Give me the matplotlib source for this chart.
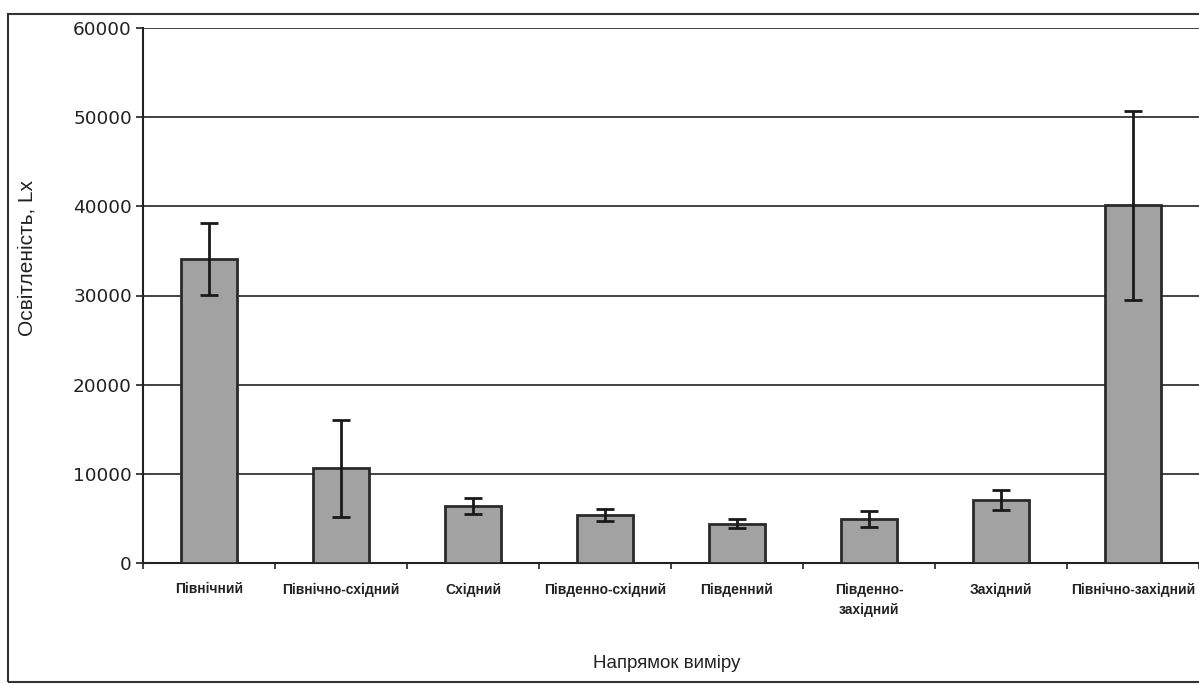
import matplotlib
matplotlib.use("Agg")
import matplotlib.pyplot as plt
from matplotlib.patches import Rectangle
from matplotlib import font_manager
import numpy as np

categories = ["Північний", "Північно-східний", "Східний", "Південно-східний",
              "Південний", "Південно-\nзахідний", "Західний", "Північно-західний"]
values = [34100, 10600, 6400, 5400, 4400, 4900, 7100, 40100]
errors = [4000, 5400, 900, 700, 500, 900, 1100, 10600]
yticks = [0, 10000, 20000, 30000, 40000, 50000, 60000]

names = {f.name for f in font_manager.fontManager.ttflist}
narrow = "Liberation Sans Narrow" in names
xfam = "Liberation Sans Narrow" if narrow else "Liberation Sans"
xsize = 12 if narrow else 10

W, H = 1199, 684
fig = plt.figure(figsize=(W / 100, H / 100), dpi=100)
fig.patch.set_facecolor("white")

left, right, top, bottom = 143, 1199, 28, 563
ax = fig.add_axes([left / W, (H - bottom) / H, (right - left) / W, (bottom - top) / H])

x = np.arange(len(categories))
ax.bar(x, values, width=0.42, color="#a2a2a2", edgecolor="#2a2a2a", linewidth=2, zorder=3)
ax.errorbar(x, values, yerr=errors, fmt="none", ecolor="#1a1a1a", elinewidth=2,
            capsize=6.5, capthick=2, zorder=4)

ax.set_xlim(-0.5, len(categories) - 0.5)
ax.set_ylim(0, 60000)
ax.set_yticks(yticks)
ax.set_yticklabels([str(v) for v in yticks], fontsize=13.3, family="DejaVu Sans", color="#222222")
ax.set_xticks(x)
ax.set_xticklabels(categories, fontsize=xsize, family=xfam, fontweight="bold",
                   color="#222222", linespacing=1.6)
ax.set_xticks(np.arange(len(categories) + 1) - 0.5, minor=True)
ax.tick_params(axis="x", which="major", length=0, pad=14)
ax.tick_params(axis="x", which="minor", length=4, width=1.2, direction="out", color="#222")
ax.tick_params(axis="y", length=5, width=1.2, direction="out", color="#222", pad=3)

ax.yaxis.grid(True, color="#222222", linewidth=1.2, zorder=0)
ax.set_axisbelow(True)
for s in ["top", "right"]:
    ax.spines[s].set_visible(False)
for s in ["left", "bottom"]:
    ax.spines[s].set_linewidth(1.5)
    ax.spines[s].set_color("#222222")

fig.text(27 / W, 1 - 258 / H, "Освітленість, Lx", rotation=90, ha="center", va="center",
         fontsize=15, family="Liberation Sans", color="#222222")
fig.text(667 / W, 1 - 663 / H, "Напрямок виміру", ha="center", va="center",
         fontsize=13.5, family="Liberation Sans", color="#222222")

# outer chart border
fig.add_artist(Rectangle((8 / W, 2 / H), 1.2, (682 - 14) / H, transform=fig.transFigure,
                         fill=False, edgecolor="#333333", linewidth=1.5))

fig.savefig("out.png", dpi=100)
